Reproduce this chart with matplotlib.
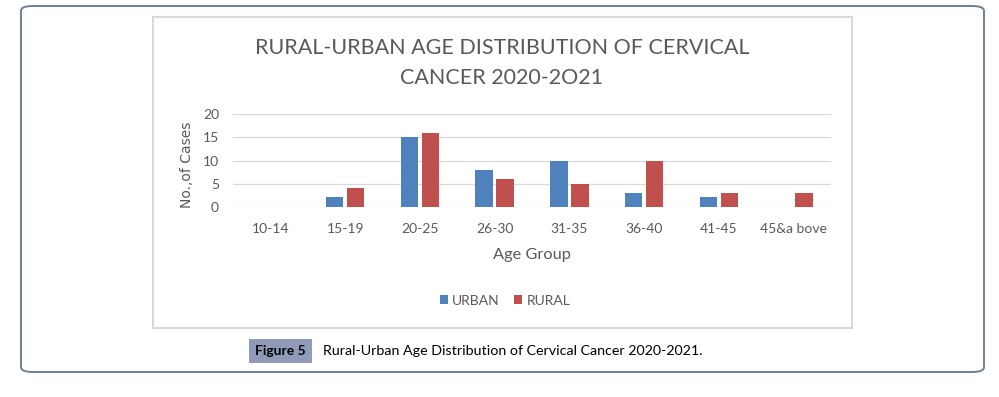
import numpy as np
import matplotlib
matplotlib.use('Agg')
import matplotlib.pyplot as plt
from matplotlib.patches import FancyBboxPatch, Rectangle

plt.rcParams['font.family'] = ['Lato', 'DejaVu Sans']

age_groups = ['10-14', '15-19', '20-25', '26-30', '31-35', '36-40', '41-45', '45&a bove']
urban = [0, 2, 15, 8, 10, 3, 2, 0]
rural = [0, 4, 16, 6, 5, 10, 3, 3]
yticks = [0, 5, 10, 15, 20]

W, H = 999, 397
grey = '#595959'

def fx(px):
    return px / W

def fy(py):
    return 1 - py / H

fig = plt.figure(figsize=(W / 100, H / 100), dpi=100)
fig.patch.set_facecolor('white')

# outer rounded frame and inner chart frame
outer = FancyBboxPatch((fx(21), fy(372)), fx(984) - fx(21), fy(6) - fy(372),
                       boxstyle='round,pad=0,rounding_size=0.012',
                       transform=fig.transFigure, fill=False,
                       edgecolor='#6a7f9c', lw=1.4)
fig.patches.append(outer)
inner = Rectangle((fx(152.5), fy(328)), fx(852) - fx(152.5), fy(17) - fy(328),
                  transform=fig.transFigure, fill=False, edgecolor='#d9d9d9', lw=1.5)
fig.patches.append(inner)

ax = fig.add_axes([fx(233), fy(206.7), fx(831) - fx(233), fy(114.3) - fy(206.7)])

x = np.arange(len(age_groups))
w = 0.235
ax.bar(x - 0.14, urban, w, color='#4F81BD', label='URBAN', zorder=3)
ax.bar(x + 0.14, rural, w, color='#C0504D', label='RURAL', zorder=3)

ax.set_xlim(-0.5, len(age_groups) - 0.5)
ax.set_ylim(0, 20)
ax.set_yticks(yticks)
ax.yaxis.grid(True, color='#d9d9d9', lw=0.9, zorder=0)
for s in ax.spines.values():
    s.set_visible(False)
ax.tick_params(axis='both', length=0, colors=grey, labelsize=10)
ax.tick_params(axis='y', pad=10)
ax.tick_params(axis='x', pad=12)
ax.set_xticks(x)
ax.set_xticklabels(age_groups)

ax.set_xlabel('Age Group', fontsize=11.8, color=grey)
ax.xaxis.set_label_coords(0.5, -0.523)
ax.xaxis.label.set_va('center')

fig.text(fx(187), fy(164.4), 'No.,of Cases', rotation=90, ha='center', va='center',
         fontsize=10, color=grey, family='DejaVu Sans')

fig.text(fx(502), fy(48), 'RURAL-URBAN AGE DISTRIBUTION OF CERVICAL',
         ha='center', va='center', fontsize=15.5, color=grey)
fig.text(fx(502), fy(77.5), 'CANCER 2020-2O21',
         ha='center', va='center', fontsize=15.5, color=grey)

ax.legend(loc='center', bbox_to_anchor=(fx(505), fy(300.7)),
          bbox_transform=fig.transFigure, ncol=2, frameon=False,
          fontsize=10, labelcolor=grey, handlelength=0.6, handleheight=0.6,
          handletextpad=0.3, columnspacing=1.0)

fig.text(fx(280.5), fy(351), 'Figure 5', ha='center', va='center', fontsize=10,
         fontweight='bold', color='black',
         bbox=dict(boxstyle='square,pad=0.45', facecolor='#8f9bb8', edgecolor='none'))
fig.text(fx(323), fy(351), 'Rural-Urban Age Distribution of Cervical Cancer 2020-2021.',
         ha='left', va='center', fontsize=10.3, color='black')

fig.savefig('out.png', dpi=100)
